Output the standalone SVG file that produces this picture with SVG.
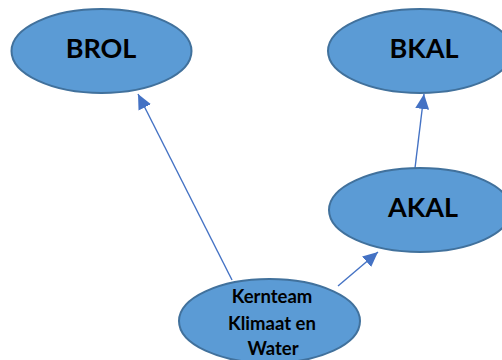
<svg xmlns="http://www.w3.org/2000/svg" width="502" height="360" viewBox="0 0 502 360">
<style>
.node{fill:#5B9BD5;stroke:#41719C;stroke-width:2}
.lbl{font-family:Lato,"Liberation Sans",Arial,sans-serif;font-weight:bold;fill:#000;text-anchor:middle}
.big{font-size:27px}
.small{font-size:18.5px}
.conn{stroke:#4472C4;stroke-width:1.4;fill:none;marker-end:url(#ah)}
</style>
<defs>
<marker id="ah" markerUnits="userSpaceOnUse" markerWidth="16" markerHeight="14" refX="15" refY="7" orient="auto">
<path d="M0,0 L15,7 L0,14 Z" fill="#4472C4"/>
</marker>
</defs>
<rect width="502" height="360" fill="#fff"/>
<g id="connectors">
<line class="conn" x1="232" y1="280" x2="138" y2="94"/>
<line class="conn" x1="338" y1="286" x2="378" y2="252"/>
<line class="conn" x1="415" y1="168" x2="424" y2="94"/>
</g>
<g id="brol">
<ellipse class="node" cx="101.5" cy="51" rx="90" ry="42"/>
<text class="lbl big" x="101" y="58">BROL</text>
</g>
<g id="bkal">
<ellipse class="node" cx="420" cy="51" rx="92" ry="42"/>
<text class="lbl big" x="424" y="58">BKAL</text>
</g>
<g id="akal">
<ellipse class="node" cx="420" cy="210" rx="91" ry="42"/>
<text class="lbl big" x="423" y="217">AKAL</text>
</g>
<g id="kernteam">
<ellipse class="node" cx="269.5" cy="321" rx="90.5" ry="42"/>
<text class="lbl small" x="272" y="303">Kernteam</text>
<text class="lbl small" x="272" y="330">Klimaat en</text>
<text class="lbl small" x="273" y="355">Water</text>
</g>
</svg>
